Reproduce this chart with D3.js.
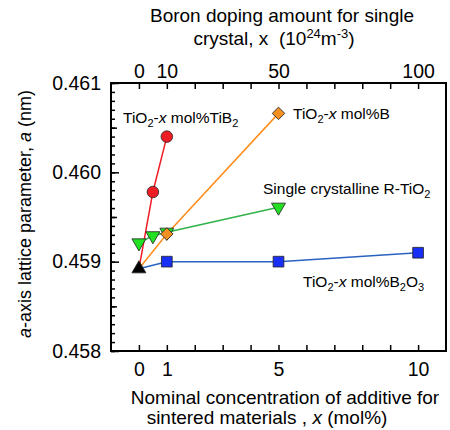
<!DOCTYPE html>
<html>
<head>
<meta charset="utf-8">
<script src="https://cdn.jsdelivr.net/npm/d3@7"></script>
<style>
    body { margin: 0; background: #fff; }
    svg { font-family: "Liberation Sans", Arial, sans-serif; }
    text { white-space: pre; }
</style>
</head>
<body>
<div id="chart"></div>
<script>
// a-axis lattice parameter vs additive amount

// sintered materials (bottom axis, mol%)
const baseX = 0;
const baseA = 0.45892;
const tib2X = [0, 0.5, 1];
const tib2A = [0.45892, 0.45978, 0.46040];
const boronX = [0, 1, 5];
const boronA = [0.45892, 0.45931, 0.46066];
const b2o3X = [0, 1, 5, 10];
const b2o3A = [0.45892, 0.45900, 0.45900, 0.45910];
// single crystal (top axis, 10^24 m^-3)
const singleX = [0, 5, 10, 50];
const singleA = [0.45921, 0.45929, 0.45933, 0.45961];

const bottomTicks = d3.range(0, 11);
const bottomLabels = [0, 1, 5, 10];
const topTicks = d3.range(0, 101, 10);
const topLabels = [0, 10, 50, 100];
const yTicks = [0.458, 0.459, 0.460, 0.461];

const width = 450, height = 430;
const mLeft = 111, mRight = 446, mTop = 83, mBottom = 351;

const svg = d3.select('#chart').append('svg')
    .attr('width', width)
    .attr('height', height);

const x = d3.scaleLinear().domain([-1, 11]).range([mLeft, mRight]);
const xTop = d3.scaleLinear().domain([-10, 110]).range([mLeft, mRight]);
const y = d3.scaleLinear().domain([0.458, 0.461]).range([mBottom, mTop]);

// axes
svg.append('g')
    .attr('transform', `translate(0,${mBottom})`)
    .call(d3.axisBottom(x)
        .tickValues(bottomTicks)
        .tickSizeInner(-6)
        .tickSizeOuter(0)
        .tickPadding(11)
        .tickFormat(d => bottomLabels.includes(d) ? d : ''));

svg.append('g')
    .attr('transform', `translate(0,${mTop})`)
    .call(d3.axisTop(xTop)
        .tickValues(topTicks)
        .tickSizeInner(-6)
        .tickSizeOuter(0)
        .tickPadding(5)
        .tickFormat(d => topLabels.includes(d) ? d : ''));

// minor y ticks
const minor = d3.range(0, 31).map(i => 0.458 + i * 0.0001);
svg.append('g')
    .attr('transform', `translate(${mLeft},0)`)
    .call(d3.axisLeft(y)
        .tickValues(minor)
        .tickSizeInner(-4)
        .tickSizeOuter(0)
        .tickFormat(''));
svg.append('g')
    .attr('transform', `translate(${mLeft},0)`)
    .call(d3.axisLeft(y)
        .tickValues([0.4585, 0.4595, 0.4605])
        .tickSizeInner(-6)
        .tickSizeOuter(0)
        .tickFormat(''));
svg.append('g')
    .attr('transform', `translate(${mLeft},0)`)
    .call(d3.axisLeft(y)
        .tickValues(yTicks)
        .tickSizeInner(-8)
        .tickSizeOuter(0)
        .tickPadding(10)
        .tickFormat(d3.format('.3f')));

svg.selectAll('.domain').remove();
svg.selectAll('.tick line').attr('stroke', '#000').attr('stroke-width', 1.5);
svg.selectAll('.tick text').attr('font-size', 19.5).attr('fill', '#000')
    .attr('font-family', '"Liberation Sans", Arial, sans-serif');

// frame
svg.append('rect')
    .attr('x', mLeft).attr('y', mTop)
    .attr('width', mRight - mLeft).attr('height', mBottom - mTop)
    .attr('fill', 'none').attr('stroke', '#000').attr('stroke-width', 2);

// lines
const line = (xs, as, sx) => d3.line()
    .x((d, i) => sx(xs[i]))
    .y(d => y(d))(as);

svg.append('path').attr('d', line(b2o3X, b2o3A, x))
    .attr('fill', 'none').attr('stroke', '#2a62c0').attr('stroke-width', 1.5);
svg.append('path').attr('d', line(singleX, singleA, xTop))
    .attr('fill', 'none').attr('stroke', '#2fb34a').attr('stroke-width', 1.5);
svg.append('path').attr('d', line(boronX, boronA, x))
    .attr('fill', 'none').attr('stroke', '#ff8c1a').attr('stroke-width', 1.5);
svg.append('path').attr('d', line(tib2X, tib2A, x))
    .attr('fill', 'none').attr('stroke', '#ee1c24').attr('stroke-width', 1.5);

// markers
function markers(xs, as, sx, type, size, fill, rotate, skip) {
    svg.append('g').selectAll('path')
        .data(as.map((a, i) => ({ x: xs[i], a: a })).slice(skip))
        .enter().append('path')
        .attr('d', d3.symbol().type(type).size(size))
        .attr('transform', d => `translate(${sx(d.x)},${y(d.a)}) rotate(${rotate})`)
        .attr('fill', fill)
        .attr('stroke', '#222')
        .attr('stroke-width', 0.8);
}

markers(b2o3X, b2o3A, x, d3.symbolSquare, 115, '#1a2ff5', 0, 1);
markers(singleX, singleA, xTop, d3.symbolTriangle, 85, '#22e022', 180, 0);
markers(boronX, boronA, x, d3.symbolSquare, 78, '#f39021', 45, 1);
markers(tib2X, tib2A, x, d3.symbolCircle, 105, '#ee1c24', 0, 1);
markers([baseX], [baseA], x, d3.symbolTriangle, 85, '#000', 0, 0);

// series labels
function label(px, py, parts) {
    const t = svg.append('text')
        .attr('x', px).attr('y', py)
        .attr('font-size', 15.5).attr('fill', '#000');
    parts.forEach(p => {
        const s = t.append('tspan').text(p.t);
        if (p.i) s.attr('font-style', 'italic');
        if (p.sub) s.attr('font-size', 11).attr('dy', 4);
        if (p.back) s.attr('dy', -4);
    });
}

label(123, 123, [{ t: 'TiO' }, { t: '2', sub: true }, { t: '-', back: true }, { t: 'x', i: true },
    { t: ' mol%TiB' }, { t: '2', sub: true }]);
label(293, 119, [{ t: 'TiO' }, { t: '2', sub: true }, { t: '-', back: true }, { t: 'x', i: true },
    { t: ' mol%B' }]);
label(263, 194, [{ t: 'Single crystalline R-TiO' }, { t: '2', sub: true }]);
label(303, 287, [{ t: 'TiO' }, { t: '2', sub: true }, { t: '-', back: true }, { t: 'x', i: true },
    { t: ' mol%B' }, { t: '2', sub: true }, { t: 'O', back: true }, { t: '3', sub: true }]);

// axis titles
svg.append('text')
    .attr('x', 282).attr('y', 22)
    .attr('text-anchor', 'middle').attr('font-size', 19)
    .text('Boron doping amount for single');
const t2 = svg.append('text')
    .attr('x', 274).attr('y', 45)
    .attr('text-anchor', 'middle').attr('font-size', 19);
t2.append('tspan').text('crystal, x  (10');
t2.append('tspan').text('24').attr('font-size', 13).attr('dy', -7);
t2.append('tspan').text('m').attr('dy', 7);
t2.append('tspan').text('-3').attr('font-size', 13).attr('dy', -7);
t2.append('tspan').text(')').attr('dy', 7);

svg.append('text')
    .attr('x', 285).attr('y', 404)
    .attr('text-anchor', 'middle').attr('font-size', 19)
    .text('Nominal concentration of additive for');
const b2 = svg.append('text')
    .attr('x', 267).attr('y', 424)
    .attr('text-anchor', 'middle').attr('font-size', 19);
b2.append('tspan').text('sintered materials , ');
b2.append('tspan').text('x').attr('font-style', 'italic');
b2.append('tspan').text(' (mol%)');

const yt = svg.append('text')
    .attr('transform', `translate(31,214) rotate(-90)`)
    .attr('text-anchor', 'middle').attr('font-size', 18);
yt.append('tspan').text('a').attr('font-style', 'italic');
yt.append('tspan').text('-axis lattice parameter, ');
yt.append('tspan').text('a').attr('font-style', 'italic');
yt.append('tspan').text(' (nm)');
</script>
</body>
</html>
